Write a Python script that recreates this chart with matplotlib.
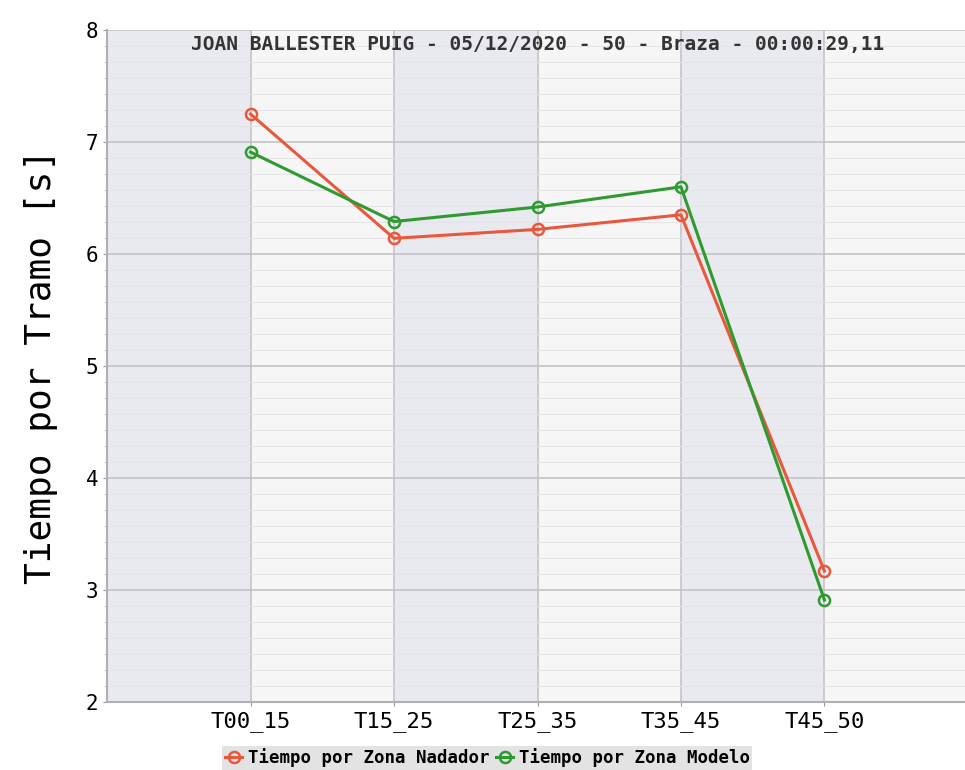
import numpy as np
import matplotlib.pyplot as plt
from matplotlib.ticker import MultipleLocator

tramos = ['T00_15', 'T15_25', 'T25_35', 'T35_45', 'T45_50']
nadador = [7.25, 6.14, 6.22, 6.35, 3.17]
modelo = [6.91, 6.29, 6.42, 6.60, 2.91]
titulo = 'JOAN BALLESTER PUIG - 05/12/2020 - 50 - Braza - 00:00:29,11'

fig = plt.figure(figsize=(9.65, 7.7), dpi=100)
ax = fig.add_axes([0.111, 0.0883, 0.892, 0.8727])

x = np.arange(len(tramos))

# fondo en bandas
ax.set_facecolor('#f6f6f7')
for i in range(-1, len(tramos), 2):
    ax.axvspan(i, i + 1, color='#e9e9f0', zorder=0, lw=0)

ax.set_xlim(-1, 5)
ax.set_ylim(2, 8)
ax.yaxis.set_major_locator(MultipleLocator(1))
ax.yaxis.set_minor_locator(MultipleLocator(1 / 7))
ax.grid(True, which='major', color='#c4c4c8', lw=1.2, zorder=1)
ax.grid(True, which='minor', axis='y', color='#e4e4e8', lw=0.8, zorder=1)

ax.plot(x, nadador, color='#e8583c', lw=2.2, marker='o', ms=8, mfc='none',
        mew=1.8, label='Tiempo por Zona Nadador', zorder=3)
ax.plot(x, modelo, color='#2f9a2f', lw=2.2, marker='o', ms=8, mfc='none',
        mew=1.8, label='Tiempo por Zona Modelo', zorder=3)

ax.set_xticks(x)
ax.set_xticklabels(tramos, family='DejaVu Sans Mono', fontsize=16)
for lab in ax.get_yticklabels():
    lab.set_family('DejaVu Sans Mono')
    lab.set_fontsize(15)
ax.tick_params(axis='both', which='major', length=3, color='#999999')
ax.tick_params(axis='y', which='minor', length=2, color='#bbbbbb')

for s in ['top', 'right']:
    ax.spines[s].set_visible(False)
for s in ['left', 'bottom']:
    ax.spines[s].set_color('#b0b0b4')
    ax.spines[s].set_linewidth(1.5)

ax.set_ylabel('Tiempo por Tramo [s]', family='DejaVu Sans Mono', fontsize=26,
              labelpad=20)
ax.text(0.5, 0.978, titulo, transform=ax.transAxes, ha='center', va='center',
        family='DejaVu Sans Mono', fontweight='bold', fontsize=14, color='#333333')

leg = fig.legend(loc='center', bbox_to_anchor=(0.505, 0.0156), ncol=2,
                 prop={'family': 'DejaVu Sans Mono', 'weight': 'bold', 'size': 12.5},
                 frameon=True, fancybox=False, handlelength=1.0, handletextpad=0.3,
                 columnspacing=0.4, borderpad=0.15)
leg.get_frame().set_facecolor('#dcdcdc')
leg.get_frame().set_edgecolor('none')

fig.savefig('out.png', dpi=100)
